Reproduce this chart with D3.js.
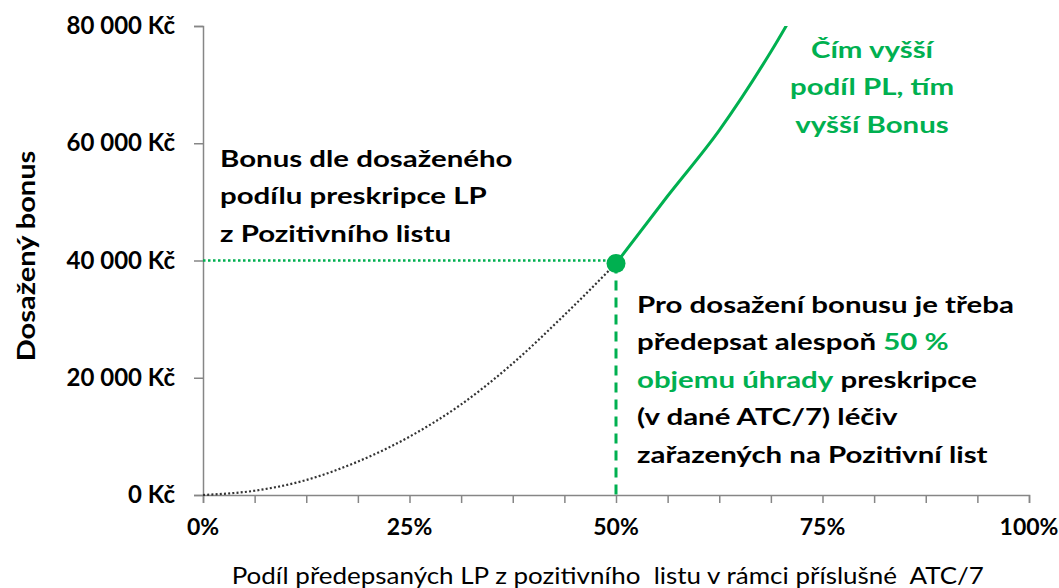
<!DOCTYPE html>
<html>
<head>
<meta charset="utf-8">
<script src="https://cdn.jsdelivr.net/npm/d3@7"></script>
<style>
  body { margin: 0; background: #fff; }
  svg { display: block; }
  text { font-family: Lato, "Open Sans", sans-serif; }
</style>
</head>
<body>
<div id="chart"></div>
<script>
// podíl (x) a bonus (y)
var shareBelow = [0, 0.0625, 0.125, 0.1875, 0.25, 0.3125, 0.375, 0.4375, 0.5];
var bonusBelow = [0, 730, 2560, 5700, 9950, 15450, 22450, 30700, 39500];
var shareAbove = [0.5, 0.5625, 0.625, 0.6875, 0.75];
var bonusAbove = [39500, 51000, 62200, 75600, 91000];
var threshold = [0.5, 39500];
var refBonus = 40000;
var yTicks = [0, 20000, 40000, 60000, 80000];
var xLabels = [0, 0.25, 0.5, 0.75, 1];
var xMinor = d3.range(0, 17).map(function(i) { return i / 16; });

var green = "#00b050";
var width = 1059, height = 588;
var margin = { left: 203, right: 30, top: 26, bottom: 93 };

var svg = d3.select("#chart").append("svg").attr("width", width).attr("height", height);

var x = d3.scaleLinear().domain([0, 1]).range([margin.left, width - margin.right]);
var y = d3.scaleLinear().domain([0, 80000]).range([height - margin.bottom, margin.top]);

svg.append("defs").append("clipPath").attr("id", "plot")
  .append("rect").attr("x", x(0)).attr("y", y(80000))
  .attr("width", x(1) - x(0)).attr("height", y(0) - y(80000));

// osa Y
var yAxis = svg.append("g").attr("transform", "translate(" + x(0) + ",0)")
  .call(d3.axisLeft(y).tickValues(yTicks).tickSize(9).tickPadding(19)
    .tickFormat(function(d) { return d3.format(",")(d).replace(/,/g, " ") + " Kč"; }));
yAxis.selectAll("text").attr("font-size", 24).attr("font-weight", 700).attr("fill", "#000")
  .style("font-family", "Lato, sans-serif");

// osa X
var xAxis = svg.append("g").attr("transform", "translate(0," + y(0) + ")")
  .call(d3.axisBottom(x).tickValues(xMinor).tickSize(8).tickFormat(""));
svg.append("g").selectAll("text").data(xLabels).join("text")
  .attr("x", function(d) { return x(d); }).attr("y", y(0) + 40)
  .attr("text-anchor", "middle").attr("font-size", 23).attr("font-weight", 700)
  .text(function(d) { return Math.round(d * 100) + "%"; });

svg.selectAll(".domain, .tick line").attr("stroke", "#868686").attr("stroke-width", 1.5);

// titulky os (písmo v originále je širší, proto scale)
svg.append("g").attr("transform", "translate(" + x(0.49) + ",584) scale(1.13,1)")
  .append("text").attr("text-anchor", "middle").attr("font-size", 23).style("white-space", "pre")
  .text("Podíl předepsaných LP z pozitivního  listu v rámci příslušné  ATC/7");
svg.append("g").attr("transform", "translate(35,256) rotate(-90) scale(1.16,1)")
  .append("text").attr("text-anchor", "middle").attr("font-size", 25).attr("font-weight", 700)
  .text("Dosažený bonus");

var line = d3.line().x(function(d) { return x(d[0]); }).y(function(d) { return y(d[1]); })
  .curve(d3.curveMonotoneX);

// pomocné čáry
svg.append("line").attr("x1", x(0)).attr("x2", x(threshold[0]))
  .attr("y1", y(refBonus)).attr("y2", y(refBonus))
  .attr("stroke", green).attr("stroke-width", 2.5).attr("stroke-dasharray", "2.5 2.5");
svg.append("line").attr("x1", x(threshold[0])).attr("x2", x(threshold[0]))
  .attr("y1", y(threshold[1])).attr("y2", y(0))
  .attr("stroke", green).attr("stroke-width", 3).attr("stroke-dasharray", "10 7");

// křivky
svg.append("path").datum(d3.zip(shareBelow, bonusBelow)).attr("d", line)
  .attr("fill", "none").attr("stroke", "#333").attr("stroke-width", 2.2).attr("stroke-dasharray", "2 2.2");
svg.append("path").datum(d3.zip(shareAbove, bonusAbove)).attr("d", line)
  .attr("clip-path", "url(#plot)")
  .attr("fill", "none").attr("stroke", green).attr("stroke-width", 3);
svg.append("circle").attr("cx", x(threshold[0])).attr("cy", y(threshold[1])).attr("r", 9.5).attr("fill", green);

// popisky
function block(lines, x0, y0, anchor, fill) {
  var t = svg.append("g").attr("transform", "translate(" + x0 + "," + y0 + ") scale(1.28,1)")
    .append("text").attr("text-anchor", anchor)
    .attr("font-size", 23).attr("font-weight", 700).attr("fill", fill);
  lines.forEach(function(parts, i) {
    parts.forEach(function(p, j) {
      var s = t.append("tspan").text(p[0]).attr("fill", p[1] || fill);
      if (j == 0) s.attr("x", 0).attr("y", i * 37.5);
    });
  });
}
block([[["Bonus dle dosaženého"]], [["podílu preskripce LP"]], [["z Pozitivního listu"]]], 220, 167, "start", "#000");
block([[["Čím vyšší"]], [["podíl PL, tím"]], [["vyšší Bonus"]]], 872, 58, "middle", green);
block([
  [["Pro dosažení bonusu je třeba"]],
  [["předepsat alespoň "], ["50 %", green]],
  [["objemu úhrady", green], [" preskripce"]],
  [["(v dané ATC/7) léčiv"]],
  [["zařazených na Pozitivní list"]]
], 637, 313, "start", "#000");
</script>
</body>
</html>
